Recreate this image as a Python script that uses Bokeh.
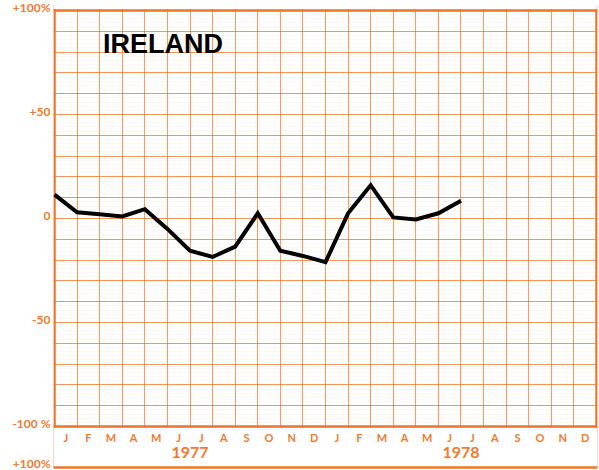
from bokeh.plotting import figure
from bokeh.models import (Range1d, FixedTicker, LinearAxis, Label, ColumnDataSource, Grid)
from bokeh.core.properties import value
from bokeh.embed import file_html
from bokeh.resources import INLINE

# ---- data ----
country = "IRELAND"
month_letters = ["J", "F", "M", "A", "M", "J", "J", "A", "S", "O", "N", "D"] * 2
years = ["1977", "1978"]
year_pos = [6, 18]
# values at month boundaries: start of Jan 1977 .. start of Jul 1978
change_pct = [11.5, 3, 2, 1, 4.5, -5, -15.5, -18.5, -13.5, 2.5, -15.5, -18, -21,
              2.5, 16, 0.5, -0.5, 2.5, 8.5]
y_ticks = [-100, -50, 0, 50, 100]
y_labels = ["-100 %", "-50", "0", "+50", "+100%"]
next_label = "+100%"   # top label of the next (cropped) chart below

# ---- layout constants ----
X0, X1 = -0.0443, 24.0443          # frame slightly wider than the 24 months
Y_TOP = 102.4                       # a little room above +100
NEXT_TOP = -119.71                  # top edge of the next chart (frame bottom)
LABEL_SHIFT = 1.6                   # tick labels sit slightly above their lines
MONTH_Y = -105.3
YEAR_Y = -112.5

ORANGE = "#f0742a"
LABEL = "#f07a30"

p = figure(width=599, height=470, output_backend="svg", toolbar_location=None,
           x_range=Range1d(X0, X1), y_range=Range1d(NEXT_TOP, Y_TOP),
           min_border_left=53, min_border_right=2, min_border_top=5, min_border_bottom=3,
           x_axis_type=None, y_axis_type=None)
p.background_fill_color = "white"
p.border_fill_color = "white"
p.outline_line_color = None

# grids (drawn first, underlay)
xg = Grid(dimension=0, ticker=FixedTicker(ticks=list(range(1, 24))),
          grid_line_color=ORANGE, grid_line_alpha=0.7, grid_line_width=1.1)
yg = Grid(dimension=1, ticker=FixedTicker(ticks=list(range(-90, 91, 10)),
                                         minor_ticks=list(range(-100, 101, 2))),
          grid_line_color=ORANGE, grid_line_alpha=0.75, grid_line_width=1.2,
          minor_grid_line_color="#f6b98a", minor_grid_line_alpha=0.12, minor_grid_line_width=1)
edge_v = Grid(dimension=0, ticker=FixedTicker(ticks=[0, 24]),
              grid_line_color=ORANGE, grid_line_width=2.5)
edge_h = Grid(dimension=1, ticker=FixedTicker(ticks=[-100, 100]),
              grid_line_color=ORANGE, grid_line_width=2.5)
for g in (xg, yg, edge_v, edge_h):
    p.add_layout(g)

# white masks above and below the chart box (hide grid lines there)
mask = ColumnDataSource(dict(left=[X0, X0], right=[X1, X1],
                             bottom=[NEXT_TOP, 100.7], top=[-100.7, Y_TOP]))
p.quad(left="left", right="right", bottom="bottom", top="top", source=mask,
       fill_color="white", line_color=None)

# left axis with tick labels (incl. the next chart's top label)
lt = [t + LABEL_SHIFT for t in y_ticks] + [NEXT_TOP + LABEL_SHIFT]
yax = LinearAxis(ticker=FixedTicker(ticks=lt))
yax.major_label_overrides = dict(zip(lt, y_labels + [next_label]))
yax.major_label_text_color = LABEL
yax.major_label_text_font = "Lato"
yax.major_label_text_font_style = "bold"
yax.major_label_text_font_size = "12px"
yax.major_tick_out = 0
yax.major_tick_in = 0
yax.minor_tick_out = 0
yax.minor_tick_in = 0
yax.major_label_standoff = 3
yax.axis_line_color = None
p.add_layout(yax, "left")

# bottom axis: its line is the next chart's top edge
edge = LinearAxis(ticker=FixedTicker(ticks=[]))
edge.major_label_text_font_size = "0px"
edge.major_tick_out = 0
edge.major_tick_in = 0
edge.minor_tick_out = 0
edge.minor_tick_in = 0
edge.major_label_standoff = 0
edge.axis_line_color = ORANGE
edge.axis_line_width = 2.5
p.add_layout(edge, "below")

# data line
src = ColumnDataSource(dict(x=list(range(len(change_pct))), y=change_pct))
p.line("x", "y", source=src, line_color="black", line_width=4, line_join="miter")

# month and year labels
mpos = [i + 0.5 for i in range(len(month_letters))]
msrc = ColumnDataSource(dict(x=mpos, y=[MONTH_Y] * len(mpos), t=month_letters))
p.text("x", "y", text="t", source=msrc, text_font=value("Lato"), text_font_style="bold",
       text_font_size="11px", text_color=LABEL, text_align="center", text_baseline="middle")
ysrc = ColumnDataSource(dict(x=year_pos, y=[YEAR_Y] * len(year_pos), t=years))
p.text("x", "y", text="t", source=ysrc, text_font=value("Lato"), text_font_style="bold",
       text_font_size="16px", text_color=LABEL, text_align="center", text_baseline="middle")

# title
p.add_layout(Label(x=2.15, y=91, text=country, text_font="Liberation Sans",
                   text_font_style="bold", text_font_size="27px", text_color="black",
                   text_baseline="top", text_align="left"))

open("out.html", "w").write(file_html(p, INLINE))
